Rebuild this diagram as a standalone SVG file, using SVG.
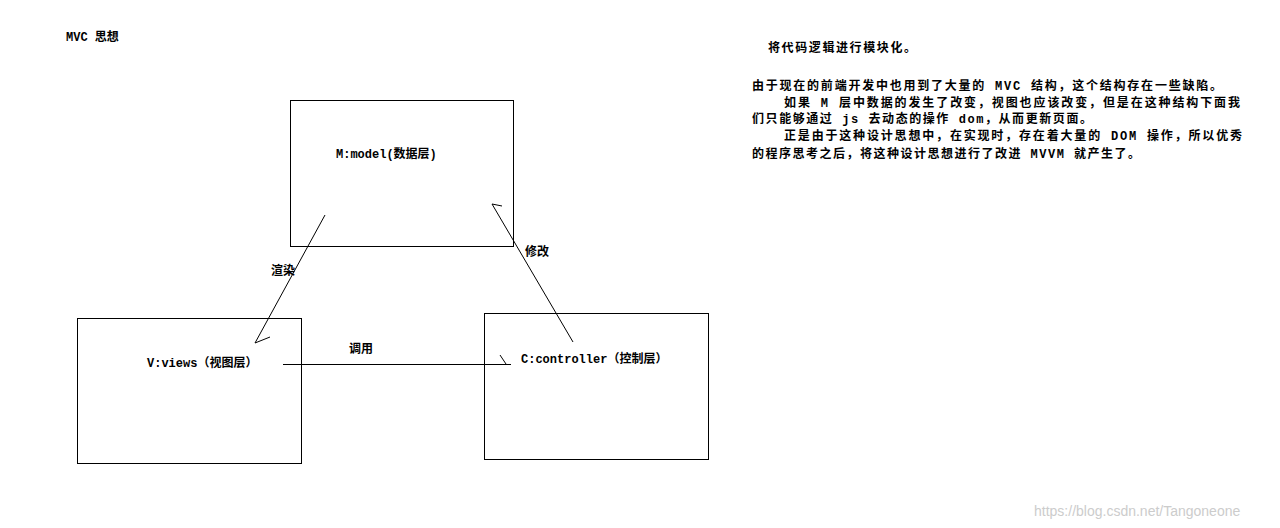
<svg xmlns="http://www.w3.org/2000/svg" width="1280" height="528" viewBox="0 0 1280 528">
<style>
.b{fill:none;stroke:#000;stroke-width:1}
.t{font-family:"Liberation Mono","Noto Sans CJK SC",monospace;font-size:12px;font-weight:bold;fill:#000}
.c{stroke:#000;stroke-width:1;fill:none}
</style>
<rect width="1280" height="528" fill="#fff"/>
<text class="t" x="66" y="41">MVC 思想</text>
<g id="model"><rect class="b" x="290.5" y="100.5" width="223" height="146"/><text class="t" x="336" y="158">M:model(数据层)</text></g>
<g id="views"><rect class="b" x="77.5" y="318.5" width="224" height="145"/><text class="t" x="147" y="367">V:views（视图层）</text></g>
<g id="controller"><rect class="b" x="484.5" y="313.5" width="224" height="146"/><text class="t" x="521" y="363">C:controller（控制层）</text></g>
<g id="connectors">
<path class="c" d="M325,215 L255,343 L270,337"/>
<path class="c" d="M573,342 L492,204 L502,206"/>
<path class="c" d="M283,364.5 L511,364.5 M500,355 L506,364"/>
<text class="t" x="271" y="275">渲染</text>
<text class="t" x="525" y="256">修改</text>
<text class="t" x="349" y="353">调用</text>
</g>
<g class="t">
<text x="768" y="52" textLength="148" lengthAdjust="spacing">将代码逻辑进行模块化。</text>
<text x="752" y="90" textLength="470" lengthAdjust="spacing">由于现在的前端开发中也用到了大量的 MVC 结构，这个结构存在一些缺陷。</text>
<text x="784" y="107" textLength="456" lengthAdjust="spacing">如果 M 层中数据的发生了改变，视图也应该改变，但是在这种结构下面我</text>
<text x="752" y="123" textLength="340" lengthAdjust="spacing">们只能够通过 js 去动态的操作 dom，从而更新页面。</text>
<text x="784" y="140" textLength="458" lengthAdjust="spacing">正是由于这种设计思想中，在实现时，存在着大量的 DOM 操作，所以优秀</text>
<text x="752" y="158" textLength="388" lengthAdjust="spacing">的程序思考之后，将这种设计思想进行了改进 MVVM 就产生了。</text>
</g>
<text x="1034" y="516" style="font-family:'Liberation Sans',sans-serif;font-size:14px;fill:#ccc">https://blog.csdn.net/Tangoneone</text>
</svg>
